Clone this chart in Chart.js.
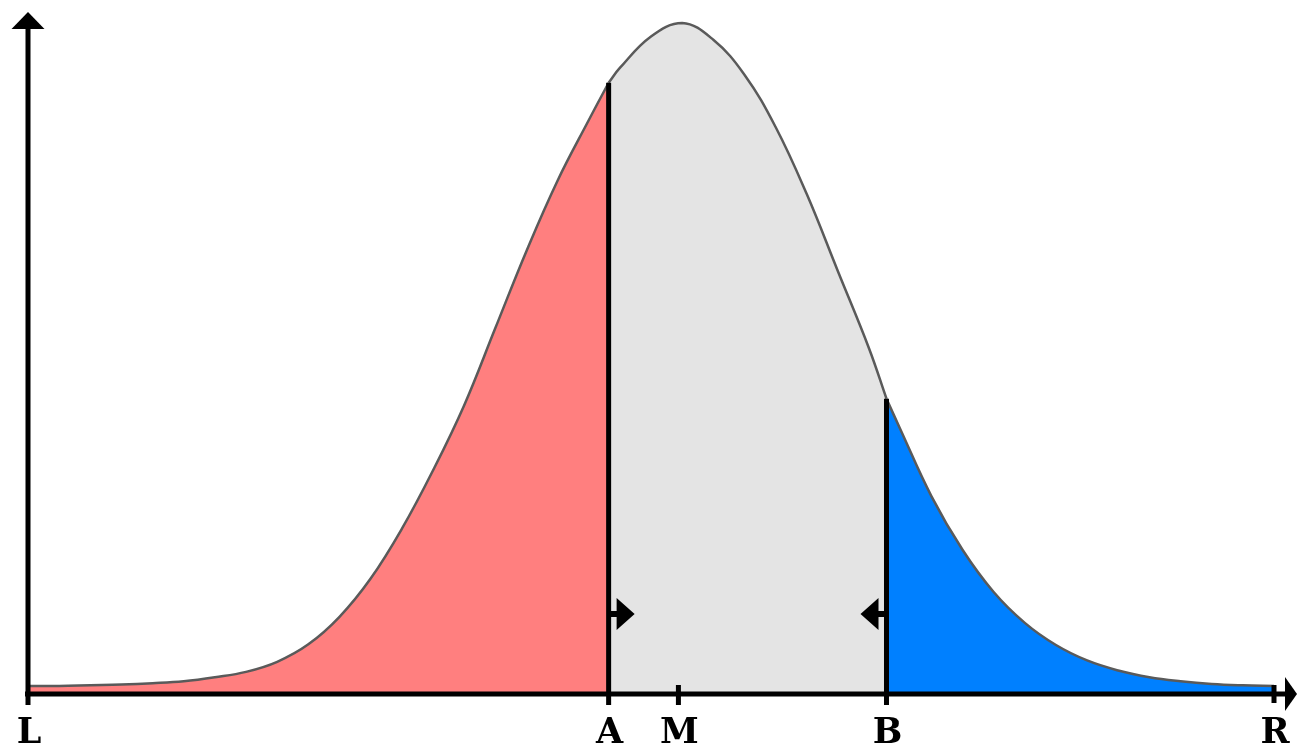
<!DOCTYPE html>
<html>
<head>
<meta charset="utf-8">
<script src="https://cdn.jsdelivr.net/npm/chart.js@4"></script>
<style>
html,body{margin:0;padding:0;background:#fff;}
canvas{display:block;}
</style>
</head>
<body>
<canvas id="c" width="1297" height="747"></canvas>
<script>
// Marks on the horizontal axis (L = 0, R = 100)
const markLabels = ['L', 'A', 'M', 'B', 'R'];
const markPositions = [0, 46.6, 52.2, 68.9, 100];
const posA = 46.6;
const posB = 68.9;

// Curve (height above the axis, peak = 100)
const curveX = [0, 2.5, 5, 7.5, 10, 12.5, 15, 17.5, 20, 22.5, 25, 27.5, 30, 32.5, 35, 37.5, 40, 42.5, 45, 46.6,
                47.5, 50, 52.5, 55, 57.5, 60, 62.5, 65, 67.5, 68.9,
                70, 72.5, 75, 77.5, 80, 82.5, 85, 87.5, 90, 92.5, 95, 97.5, 100];
const curveY = [1.2, 1.2, 1.3, 1.4, 1.6, 1.9, 2.5, 3.3, 4.8, 7.4, 11.5, 17.2, 24.6, 33.3, 43.0, 54.5, 66.0, 76.5, 85.5, 91.1,
                93.3, 98.0, 100, 97.5, 92.3, 84.5, 74.5, 63.0, 51.5, 44.0,
                39.5, 29.5, 21.5, 15.2, 10.6, 7.3, 5.0, 3.5, 2.5, 1.9, 1.5, 1.3, 1.2];

const pts = curveX.map((x, i) => ({x: x, y: curveY[i]}));
const leftPts = pts.filter(p => p.x <= posA);
const midPts = pts.filter(p => p.x >= posA && p.x <= posB);
const rightPts = pts.filter(p => p.x >= posB);
const valueAt = x => curveY[curveX.indexOf(x)];

function seg(data, color) {
  return {
    data: data,
    showLine: true,
    fill: 'origin',
    backgroundColor: color,
    borderColor: '#5a5a5a',
    borderWidth: 2.5,
    pointRadius: 0,
    tension: 0.4,
    clip: false
  };
}

const decor = {
  id: 'decor',
  afterDatasetsDraw(chart) {
    const ctx = chart.ctx;
    const xs = chart.scales.x, ys = chart.scales.y;
    const axisY = ys.getPixelForValue(0);
    const xL = xs.getPixelForValue(0);
    const xR = xs.getPixelForValue(100);
    const tickBottom = axisY + 11;
    ctx.save();
    ctx.fillStyle = '#000';
    ctx.strokeStyle = '#000';
    ctx.lineCap = 'butt';
    ctx.lineWidth = 5;

    // vertical lines at A and B
    [posA, posB].forEach(p => {
      const px = xs.getPixelForValue(p);
      ctx.beginPath();
      ctx.moveTo(px, ys.getPixelForValue(valueAt(p)));
      ctx.lineTo(px, tickBottom);
      ctx.stroke();
    });

    // x axis
    ctx.beginPath();
    ctx.moveTo(xL - 3, axisY);
    ctx.lineTo(xR + 13, axisY);
    ctx.stroke();
    ctx.beginPath();
    ctx.moveTo(1297, axisY);
    ctx.lineTo(xR + 11, axisY - 17);
    ctx.lineTo(xR + 11, axisY + 17);
    ctx.closePath();
    ctx.fill();

    // y axis
    const topY = ys.getPixelForValue(100) - 11;
    ctx.beginPath();
    ctx.moveTo(xL, tickBottom);
    ctx.lineTo(xL, topY + 15);
    ctx.stroke();
    ctx.beginPath();
    ctx.moveTo(xL, topY);
    ctx.lineTo(xL - 16.5, topY + 17);
    ctx.lineTo(xL + 16.5, topY + 17);
    ctx.closePath();
    ctx.fill();

    // ticks M and R
    [markPositions[2], markPositions[4]].forEach(p => {
      const px = xs.getPixelForValue(p);
      ctx.beginPath();
      ctx.moveTo(px, axisY - 9);
      ctx.lineTo(px, tickBottom - (p === 100 ? 2 : 0));
      ctx.stroke();
    });

    // small arrows
    const ay = axisY - 80;
    const xa = xs.getPixelForValue(posA);
    ctx.lineWidth = 6;
    ctx.beginPath(); ctx.moveTo(xa, ay); ctx.lineTo(xa + 10, ay); ctx.stroke();
    ctx.beginPath();
    ctx.moveTo(xa + 26, ay);
    ctx.lineTo(xa + 8, ay - 16);
    ctx.lineTo(xa + 8, ay + 16);
    ctx.closePath(); ctx.fill();
    const xb = xs.getPixelForValue(posB);
    ctx.beginPath(); ctx.moveTo(xb, ay); ctx.lineTo(xb - 10, ay); ctx.stroke();
    ctx.beginPath();
    ctx.moveTo(xb - 26, ay);
    ctx.lineTo(xb - 8, ay - 16);
    ctx.lineTo(xb - 8, ay + 16);
    ctx.closePath(); ctx.fill();

    // labels
    ctx.font = 'bold 35px "DejaVu Serif", "Liberation Serif", serif';
    ctx.textAlign = 'center';
    ctx.textBaseline = 'alphabetic';
    markLabels.forEach((lab, i) => {
      ctx.fillText(lab, xs.getPixelForValue(markPositions[i]) + 1, axisY + 49);
    });
    ctx.restore();
  }
};

new Chart(document.getElementById('c'), {
  type: 'scatter',
  data: {
    datasets: [
      seg(leftPts, '#FF7F7F'),
      seg(midPts, '#E4E4E4'),
      seg(rightPts, '#0080FF')
    ]
  },
  options: {
    responsive: false,
    animation: false,
    layout: {padding: {left: 28, right: 23, top: 23, bottom: 53}},
    plugins: {legend: {display: false}, tooltip: {enabled: false}},
    scales: {
      x: {type: 'linear', min: 0, max: 100, display: false},
      y: {type: 'linear', min: 0, max: 100, display: false}
    }
  },
  plugins: [decor]
});
</script>
</body>
</html>
